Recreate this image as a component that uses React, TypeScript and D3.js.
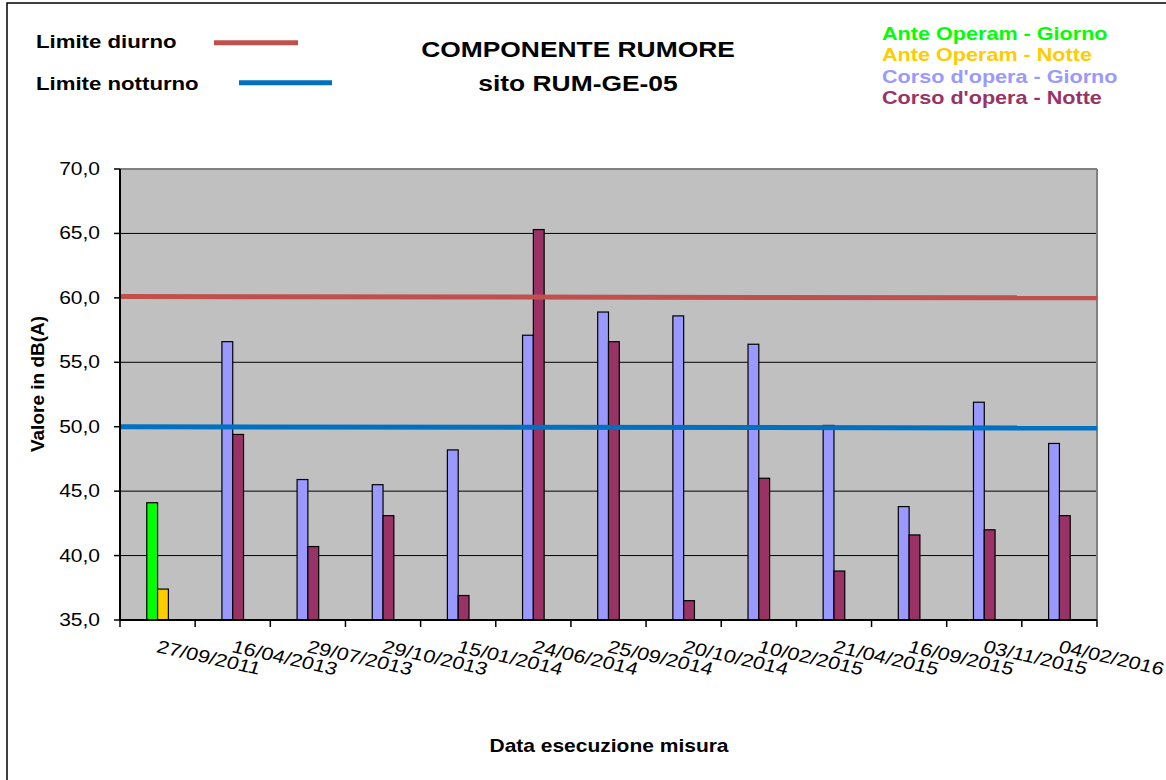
import React from 'react';
import * as d3 from 'd3';

const dates = [
  '27/09/2011', '16/04/2013', '29/07/2013', '29/10/2013', '15/01/2014', '24/06/2014', '25/09/2014',
  '20/10/2014', '10/02/2015', '21/04/2015', '16/09/2015', '03/11/2015', '04/02/2016',
];
const anteGiorno = [44.1, null, null, null, null, null, null, null, null, null, null, null, null];
const anteNotte = [37.4, null, null, null, null, null, null, null, null, null, null, null, null];
const corsoGiorno = [null, 56.6, 45.9, 45.5, 48.2, 57.1, 58.9, 58.6, 56.4, 50.1, 43.8, 51.9, 48.7];
const corsoNotte = [null, 49.4, 40.7, 43.1, 36.9, 65.3, 56.6, 36.5, 46.0, 38.8, 41.6, 42.0, 43.1];
const limiteDiurno = [60.1, 60.0];
const limiteNotturno = [50.0, 49.9];

const seriesNames = ['Ante Operam - Giorno', 'Ante Operam - Notte', "Corso d'opera - Giorno", "Corso d'opera - Notte"];
const seriesColors = ['#00FF00', '#FFCC00', '#9999FF', '#993366'];

const font = 'Liberation Sans, Arial, sans-serif';
const sx = 1.2; // the original picture is stretched sideways

export default function App() {
  const width = 1166;
  const height = 780;
  const left = 120, right = 1097, top = 169, bottom = 620;

  const x = d3.scaleBand<string>().domain(dates).range([left, right]);
  const y = d3.scaleLinear().domain([35, 70]).range([bottom, top]);
  const barW = 10.8;
  const fmt = (v: number) => d3.format('.1f')(v).replace('.', ',');

  const lx = d3.scaleLinear().domain([0, 1]).range([left + 1, right]);
  const limLine = d3.line<number>().x((_, i) => lx(i)).y(d => y(d));

  const bars: { x: number; v: number; color: string }[] = [];
  dates.forEach((d, i) => {
    const cx = x(d)! + x.bandwidth() / 2;
    const day = anteGiorno[i] ?? corsoGiorno[i];
    const dayColor = anteGiorno[i] != null ? seriesColors[0] : seriesColors[2];
    const night = anteNotte[i] ?? corsoNotte[i];
    const nightColor = anteNotte[i] != null ? seriesColors[1] : seriesColors[3];
    if (day != null) bars.push({ x: cx - barW, v: day, color: dayColor });
    if (night != null) bars.push({ x: cx, v: night, color: nightColor });
  });

  const yTicks = y.ticks(7);
  const xEdges = [...dates.map(d => x(d)!), right];

  return (
    <svg width={width} height={height} style={{ position: 'absolute', left: 0, top: 0, background: '#fff' }}>
      <rect x={7} y={3} width={1170} height={800} fill="#fff" stroke="#000" strokeWidth={1.5} />

      {/* title */}
      <g fontFamily={font} fontWeight="bold" fontSize={22} textAnchor="middle">
        <text transform={`translate(578,57) scale(${sx},1)`}>COMPONENTE RUMORE</text>
        <text transform={`translate(578,91) scale(${sx},1)`}>sito RUM-GE-05</text>
      </g>

      {/* limit legend */}
      <g fontFamily={font} fontWeight="bold" fontSize={18.5}>
        <text transform={`translate(36,48) scale(${sx},1)`}>Limite diurno</text>
        <line x1={214} x2={298} y1={42.7} y2={42.7} stroke="#C0504D" strokeWidth={5} />
        <text transform={`translate(36,90) scale(${sx},1)`}>Limite notturno</text>
        <line x1={239} x2={332} y1={82.7} y2={82.7} stroke="#0070C0" strokeWidth={5} />
      </g>

      {/* series legend */}
      <g fontFamily={font} fontWeight="bold" fontSize={18}>
        {seriesNames.map((n, i) => (
          <text key={n} transform={`translate(882,${39.5 + i * 21.5}) scale(${sx},1)`} fill={seriesColors[i]}>{n}</text>
        ))}
      </g>

      {/* plot area */}
      <rect x={left} y={top} width={right - left} height={bottom - top} fill="#C0C0C0" />
      {yTicks.filter(t => t > 35 && t < 70).map(t => (
        <line key={t} x1={left} x2={right} y1={y(t)} y2={y(t)} stroke="#000" strokeWidth={1} />
      ))}
      <line x1={left} x2={right} y1={top} y2={top} stroke="#808080" strokeWidth={2} />
      <line x1={right} x2={right} y1={top} y2={bottom} stroke="#808080" strokeWidth={2} />

      {bars.map((b, i) => (
        <rect key={i} x={b.x} y={y(b.v)} width={barW} height={bottom - y(b.v)} fill={b.color} stroke="#000" strokeWidth={1.2} />
      ))}

      <path d={limLine(limiteDiurno)!} fill="none" stroke="#C0504D" strokeWidth={5} />
      <path d={limLine(limiteNotturno)!} fill="none" stroke="#0070C0" strokeWidth={5} />

      {/* y axis */}
      <line x1={left} x2={left} y1={top} y2={bottom} stroke="#000" strokeWidth={2} />
      {yTicks.map(t => (
        <g key={t}>
          <line x1={left - 6} x2={left} y1={y(t)} y2={y(t)} stroke="#000" strokeWidth={1.5} />
          <text transform={`translate(100,${y(t) + 6}) scale(${sx},1)`} textAnchor="end" fontFamily={font} fontSize={17.5}>{fmt(t)}</text>
        </g>
      ))}
      <text transform="translate(44,384) rotate(-90)" textAnchor="middle" fontFamily={font} fontWeight="bold" fontSize={19}>Valore in dB(A)</text>

      {/* x axis */}
      <line x1={left} x2={right} y1={bottom} y2={bottom} stroke="#000" strokeWidth={2} />
      {xEdges.map((e, i) => (
        <line key={i} x1={e} x2={e} y1={bottom} y2={bottom + 7} stroke="#000" strokeWidth={1.5} />
      ))}
      {dates.map(d => (
        <text key={d} transform={`translate(${x(d)! + x.bandwidth() / 2 - 2},652) scale(${sx},1) rotate(15)`} fontFamily={font} fontSize={18}>{d}</text>
      ))}
      <text transform={`translate(609,752) scale(${sx},1)`} textAnchor="middle" fontFamily={font} fontWeight="bold" fontSize={17.5}>Data esecuzione misura</text>
    </svg>
  );
}
